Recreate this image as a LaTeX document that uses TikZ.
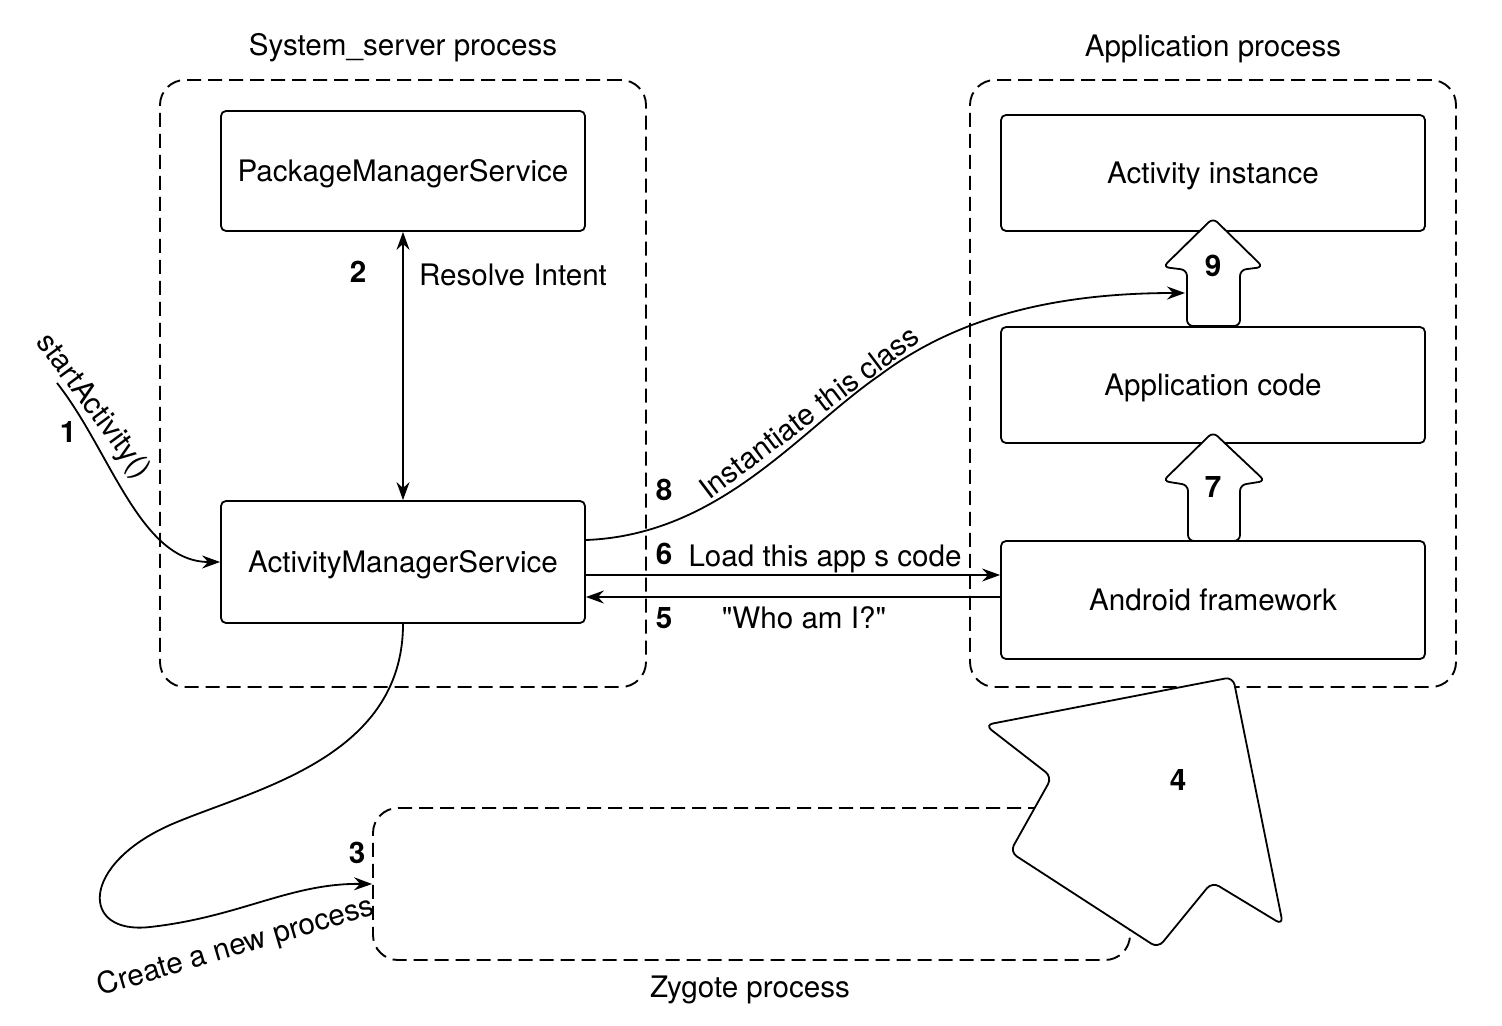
\documentclass[tikz,border=0pt]{standalone}
\usepackage{fontspec}
\setmainfont{TeX Gyre Heros}
\newfontfamily\plainquote{TeX Gyre Heros}
\usetikzlibrary{arrows.meta}

\begin{document}
\begin{tikzpicture}[x=0.5pt,y=-0.5pt,
  >={Stealth[length=9pt,width=6.5pt,inset=3pt]},
  every node/.style={font=\fontsize{14.8}{17}\selectfont,text height=10.6pt,text depth=0pt},
  num/.style={font=\fontsize{14.8}{17}\selectfont\bfseries},
  proc/.style={draw,line width=0.95pt,dash pattern=on 7pt off 3.5pt,rounded corners=12.5pt,minimum width=243pt,minimum height=303.5pt},
  box/.style={draw,line width=0.9pt,rounded corners=2.5pt,minimum width=212pt,minimum height=58pt},
  link/.style={line width=0.9pt,->},
  blk/.style={draw,fill=white,line width=0.9pt,rounded corners=3pt}]
\useasboundingbox (0,0) rectangle (1502,1026);

\node[proc] (sys) at (403,383.5) {};
\node[proc] (app) at (1213,383.5) {};
\node[proc,minimum width=378.5pt,minimum height=76pt] (zyg) at (751.5,884) {};
\node (systitle) at (403,45) {System\_server process};
\node (apptitle) at (1213,46) {Application process};
\node (zygtitle) at (750,987) {Zygote process};

\node[box,minimum width=182pt,minimum height=60pt] (pms) at (403,171) {PackageManagerService};
\node[box,minimum width=182pt,minimum height=61pt] (ams) at (403,562) {ActivityManagerService};
\node[box] (inst) at (1213,173) {Activity instance};
\node[box] (appcode) at (1213,385) {Application code};
\node[box,minimum height=59pt] (fw) at (1213,600) {Android framework};

\coordinate (s1) at (57,383);
\coordinate (n9) at (1185,293);

\draw[link] (s1) .. controls (110,450) and (140,562) .. (ams.west);
\node[num] (l1) at (68,432) {1};
\node[rotate=-53.5] (t1) at (95,405) {startActivity()};

\draw[link,<->] (pms) -- (ams);
\node[num] (l2) at (358,272) {2};
\node[anchor=west] (t2) at (412,275) {Resolve Intent};

\draw[link] (ams.south) .. controls (403,760) and (250,790) .. (170,825)
  .. controls (80,865) and (80,935) .. (150,927)
  .. controls (240,917) and (290,883) .. (zyg.west);
\node[num] (l3) at (357,853) {3};
\node[rotate=16.5] (t3) at (235,945) {Create a new process};

\draw[link] ([yshift=-6.5pt]ams.east) -- ([yshift=-6.5pt]ams.east -| fw.west);
\node[num] (l6) at (664,554) {6};
\node (t6) at (825,556) {Load this app s code};

\draw[link] ([yshift=-17.5pt]ams.east -| fw.west) -- ([yshift=-17.5pt]ams.east);
\node[num] (l5) at (664,618) {5};
\node (t5) at (804,618) {\plainquote "Who am I?"};

\draw[link] ([yshift=11pt]ams.east) .. controls (720,535) and (800,430) .. (880,375)
  .. controls (960,315) and (1060,293) .. (n9);
\node[num] (l8) at (664,490) {8};
\node[rotate=37] (t8) at (809,412) {Instantiate this class};

\draw[blk] (1213,218) -- (1263,267) -- (1240,270) -- (1240,326) -- (1187,326) -- (1187,270) -- (1163,267) -- cycle;
\node[num] (l9) at (1213,266) {9};
\draw[blk] (1213,432) -- (1265,481) -- (1240,485) -- (1240,541) -- (1188,541) -- (1188,485) -- (1163,481) -- cycle;
\node[num] (l7) at (1213,487) {7};

\draw[blk,rounded corners=4pt] (1233,677) -- (1283,925) -- (1212,882) -- (1158,948) -- (1010,852) -- (1052,777) -- (985,725) -- cycle;
\node[num] (l4) at (1178,780) {4};
\end{tikzpicture}
\end{document}
